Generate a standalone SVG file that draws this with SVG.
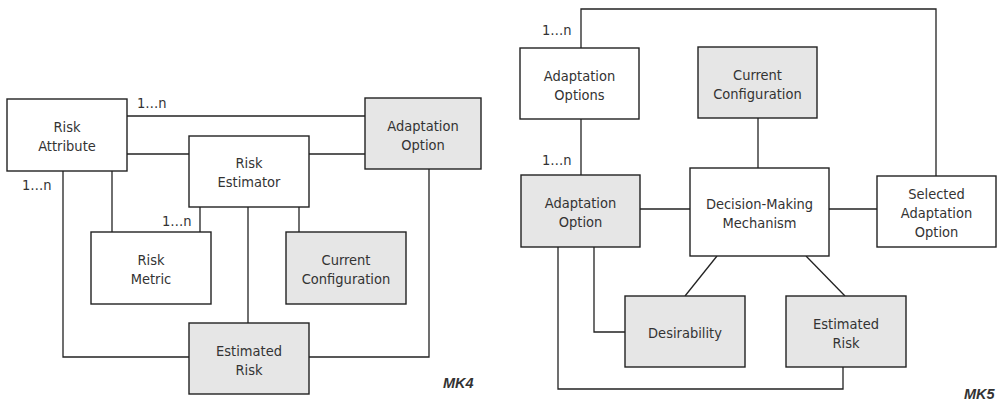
<svg xmlns="http://www.w3.org/2000/svg" width="1004" height="404" viewBox="0 0 1004 404">
<style>
.box{stroke:#222;stroke-width:1.4;fill:#fff}
.g{fill:#e6e6e6}
.c path{stroke:#222;stroke-width:1.3;fill:none}
.t{font-family:"DejaVu Sans Condensed","DejaVu Sans",sans-serif;font-size:14.5px;fill:#333;text-anchor:middle}
.m{font-family:"DejaVu Sans Condensed","DejaVu Sans",sans-serif;font-size:14.5px;fill:#333}
.mk{font-family:"Liberation Sans",Arial,sans-serif;font-size:14.5px;font-weight:bold;font-style:italic;fill:#333}
</style>
<rect width="1004" height="404" fill="#fff"/>
<g class="c" id="connectors">
<path d="M127,116 H365"/>
<path d="M127,154 H189"/>
<path d="M309,154 H365"/>
<path d="M63,171 V357 H189"/>
<path d="M112,171 V232"/>
<path d="M200,207 V232"/>
<path d="M248,207 V323"/>
<path d="M299,207 V232"/>
<path d="M309,357 H429 V169"/>
<path d="M581,48 V9 H936 V176"/>
<path d="M581,119 V175"/>
<path d="M758,118 V168"/>
<path d="M640,209 H690"/>
<path d="M829,209 H877"/>
<path d="M717,256 L685,296"/>
<path d="M806,256 L845,296"/>
<path d="M594,247 V332 H625"/>
<path d="M558,247 V389 H843 V367"/>
</g>
<g id="labels">
<text class="m" x="137" y="108">1…n</text>
<text class="m" x="22" y="190">1…n</text>
<text class="m" x="162" y="226">1…n</text>
<text class="m" x="542" y="35">1…n</text>
<text class="m" x="542" y="165">1…n</text>
<text class="mk" x="443" y="388">MK4</text>
<text class="mk" x="964" y="399">MK5</text>
</g>
<g id="risk-attribute"><rect class="box" x="7" y="99" width="120" height="72"/><text class="t" x="67" y="132">Risk</text><text class="t" x="67" y="151">Attribute</text></g>
<g id="risk-estimator"><rect class="box" x="189" y="136" width="120" height="71"/><text class="t" x="249" y="168">Risk</text><text class="t" x="249" y="187">Estimator</text></g>
<g id="adaptation-option-l"><rect class="box g" x="365" y="98" width="116" height="71"/><text class="t" x="423" y="130.5">Adaptation</text><text class="t" x="423" y="149.5">Option</text></g>
<g id="risk-metric"><rect class="box" x="91" y="232" width="120" height="72"/><text class="t" x="151" y="265">Risk</text><text class="t" x="151" y="284">Metric</text></g>
<g id="current-configuration-l"><rect class="box g" x="286" y="232" width="120" height="72"/><text class="t" x="346" y="265">Current</text><text class="t" x="346" y="284">Configuration</text></g>
<g id="estimated-risk-l"><rect class="box g" x="189" y="323" width="120" height="71"/><text class="t" x="249" y="355.5">Estimated</text><text class="t" x="249" y="374.5">Risk</text></g>
<g id="adaptation-options"><rect class="box" x="520" y="48" width="119" height="71"/><text class="t" x="579.5" y="80.5">Adaptation</text><text class="t" x="579.5" y="99.5">Options</text></g>
<g id="current-configuration-r"><rect class="box g" x="698" y="47" width="119" height="71"/><text class="t" x="757.5" y="79.5">Current</text><text class="t" x="757.5" y="98.5">Configuration</text></g>
<g id="adaptation-option-r"><rect class="box g" x="521" y="175" width="119" height="72"/><text class="t" x="580.5" y="208">Adaptation</text><text class="t" x="580.5" y="227">Option</text></g>
<g id="decision-making"><rect class="box" x="690" y="168" width="139" height="88"/><text class="t" x="759.5" y="209">Decision-Making</text><text class="t" x="759.5" y="228">Mechanism</text></g>
<g id="selected-adaptation-option"><rect class="box" x="877" y="176" width="119" height="71"/><text class="t" x="936.5" y="199">Selected</text><text class="t" x="936.5" y="218">Adaptation</text><text class="t" x="936.5" y="237">Option</text></g>
<g id="desirability"><rect class="box g" x="625" y="296" width="120" height="71"/><text class="t" x="685" y="338">Desirability</text></g>
<g id="estimated-risk-r"><rect class="box g" x="786" y="296" width="120" height="71"/><text class="t" x="846" y="328.5">Estimated</text><text class="t" x="846" y="347.5">Risk</text></g>
</svg>
